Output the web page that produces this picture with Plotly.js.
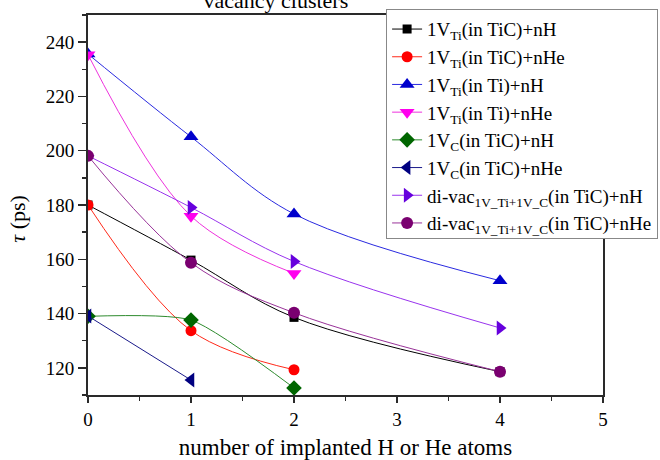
<!DOCTYPE html>
<html>
<head>
<meta charset="utf-8">
<script src="https://cdn.plot.ly/plotly-3.0.1.min.js"></script>
<style>html,body{margin:0;padding:0;background:#fff;}#chart{width:660px;height:460px;}</style>
</head>
<body>
<div id="chart"></div>
<script>
// ---- data ----
const seriesNames = [
  '1V<sub>Ti</sub>(in TiC)+nH',
  '1V<sub>Ti</sub>(in TiC)+nHe',
  '1V<sub>Ti</sub>(in Ti)+nH',
  '1V<sub>Ti</sub>(in Ti)+nHe',
  '1V<sub>C</sub>(in TiC)+nH',
  '1V<sub>C</sub>(in TiC)+nHe',
  'di-vac<sub>1V_Ti+1V_C</sub>(in TiC)+nH',
  'di-vac<sub>1V_Ti+1V_C</sub>(in TiC)+nHe'
];
const xTiC_VTi_H   = [0, 1, 2, 4];
const yTiC_VTi_H   = [180, 159.7, 138.6, 118.6];
const xTiC_VTi_He  = [0, 1, 2];
const yTiC_VTi_He  = [180, 133.7, 119.3];
const xTi_VTi_H    = [0, 1, 2, 4];
const yTi_VTi_H    = [235.6, 205.1, 176.7, 152.1];
const xTi_VTi_He   = [0, 1, 2];
const yTi_VTi_He   = [235.4, 175.9, 154.8];
const xTiC_VC_H    = [0, 1, 2];
const yTiC_VC_H    = [139.0, 137.6, 112.6];
const xTiC_VC_He   = [0, 1];
const yTiC_VC_He   = [139.1, 115.5];
const xDivac_H     = [0, 1, 2, 4];
const yDivac_H     = [198.1, 179.1, 159.2, 134.7];
const xDivac_He    = [0, 1, 2, 4];
const yDivac_He    = [198.1, 158.7, 140.3, 118.6];

const xTickVals = [0, 1, 2, 3, 4, 5];
const yTickVals = [120, 140, 160, 180, 200, 220, 240];

const FONT = 'Times New Roman, Liberation Serif, DejaVu Serif, serif';

function tr(name, x, y, lineColor, markerColor, symbol, size, shape, smooth) {
  return {
    type: 'scatter', mode: 'lines+markers', name: name, x: x, y: y,
    line: {color: lineColor, width: 1, shape: shape, smoothing: smooth},
    marker: {color: markerColor, symbol: symbol, size: size, line: {width: 0}},
    cliponaxis: true
  };
}

const data = [
  tr(seriesNames[0], xTiC_VTi_H, yTiC_VTi_H, '#000000', '#000000', 'square', 9, 'spline', 1),
  tr(seriesNames[1], xTiC_VTi_He, yTiC_VTi_He, '#ff2a1a', '#ff0000', 'circle', 11, 'spline', 1),
  tr(seriesNames[2], xTi_VTi_H, yTi_VTi_H, '#2a2ae0', '#0000cc', 'triangle-up', 13, 'spline', 1),
  tr(seriesNames[3], xTi_VTi_He, yTi_VTi_He, '#ee33dd', '#ff00ee', 'triangle-down', 13, 'spline', 1),
  tr(seriesNames[4], xTiC_VC_H, yTiC_VC_H, '#2e8b2e', '#006600', 'diamond', 12, 'spline', 0.6),
  tr(seriesNames[5], xTiC_VC_He, yTiC_VC_He, '#1a1a8a', '#000080', 'triangle-left', 13, 'linear', 1),
  tr(seriesNames[6], xDivac_H, yDivac_H, '#9933ee', '#6600dd', 'triangle-right', 13, 'spline', 1),
  tr(seriesNames[7], xDivac_He, yDivac_He, '#993399', '#7a0070', 'circle', 12, 'spline', 1)
];

const axisCommon = {
  showgrid: false, zeroline: false, showline: true, mirror: true,
  linecolor: '#2a2a2a', linewidth: 2, ticks: 'outside', tickcolor: '#2a2a2a',
  tickwidth: 1.5, tickfont: {family: FONT, size: 19, color: '#000'}, automargin: false
};

const layout = {
  width: 660, height: 460,
  margin: {l: 88, r: 57, t: 15, b: 65, autoexpand: false},
  paper_bgcolor: '#ffffff', plot_bgcolor: '#ffffff',
  font: {family: FONT, color: '#000'},
  title: {text: 'vacancy clusters', font: {family: FONT, size: 22, color: '#000'},
          xref: 'container', yref: 'container', x: 0.418, xanchor: 'center', y: 1.0, yanchor: 'middle'},
  xaxis: Object.assign({}, axisCommon, {
    range: [0, 5], tickvals: xTickVals, ticklen: 6,
    minor: {dtick: 0.5, ticklen: 4, ticks: 'outside', tickcolor: '#2a2a2a', tickwidth: 1.5},
    title: {text: 'number of implanted H or He atoms', font: {family: FONT, size: 23, color: '#000'}, standoff: 20}
  }),
  yaxis: Object.assign({}, axisCommon, {
    range: [110, 250], tickvals: yTickVals, ticklen: 8,
    minor: {dtick: 10, ticklen: 4, ticks: 'outside', tickcolor: '#2a2a2a', tickwidth: 1.5}
  }),
  annotations: [{
    text: '<i>τ</i> (ps)', textangle: -90, xref: 'paper', yref: 'paper',
    x: -0.137, y: 0.465, xanchor: 'center', yanchor: 'middle', showarrow: false,
    font: {family: FONT, size: 22, color: '#000'}
  }],
  showlegend: true,
  legend: {
    xref: 'container', yref: 'container',
    x: 0.585, y: 0.98, xanchor: 'left', yanchor: 'top',
    bgcolor: '#ffffff', bordercolor: '#888888', borderwidth: 1,
    font: {family: FONT, size: 19, color: '#000'}, traceorder: 'normal'
  }
};

Plotly.newPlot('chart', data, layout, {displayModeBar: false, staticPlot: true});
</script>
</body>
</html>
